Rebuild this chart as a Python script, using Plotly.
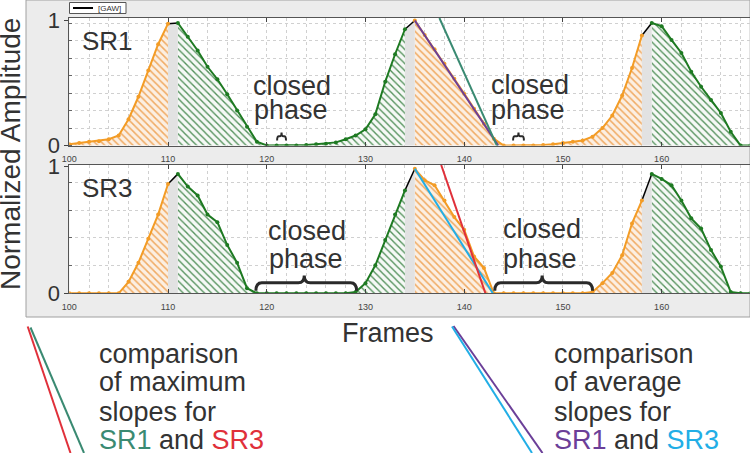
import plotly.graph_objects as go

W, H = 750, 453

# ---------------- data ----------------
frames = list(range(100, 170))

sr1 = [0.01, 0.02, 0.03, 0.035, 0.05, 0.08, 0.21, 0.39, 0.60, 0.81,
       0.975, 0.98, 0.87, 0.76, 0.63, 0.53, 0.41, 0.28, 0.15, 0.03,
       0.0, 0.0, 0.0, 0.0, 0.005, 0.01, 0.015, 0.025, 0.05, 0.08,
       0.13, 0.25, 0.51, 0.73, 0.93, 1.0, 0.885, 0.77, 0.655, 0.535,
       0.415, 0.295, 0.175, 0.055, 0.0, 0.0, 0.0, 0.0, 0.005, 0.01,
       0.02, 0.03, 0.04, 0.07, 0.14, 0.24, 0.40, 0.62, 0.88, 0.98,
       0.955, 0.845, 0.74, 0.59, 0.47, 0.365, 0.26, 0.11, 0.0, 0.0]

sr3 = [0.0, 0.0, 0.0, 0.0, 0.0, 0.0, 0.09, 0.24, 0.43, 0.62,
       0.86, 0.94, 0.84, 0.77, 0.62, 0.56, 0.38, 0.24, 0.04, 0.0,
       0.0, 0.0, 0.0, 0.0, 0.0, 0.0, 0.0, 0.0, 0.0, 0.01,
       0.08, 0.22, 0.42, 0.62, 0.81, 0.98, 0.89, 0.85, 0.73, 0.60,
       0.50, 0.29, 0.20, 0.0, 0.0, 0.0, 0.0, 0.0, 0.0, 0.0,
       0.0, 0.0, 0.0, 0.01, 0.08, 0.16, 0.30, 0.55, 0.73, 0.94,
       0.90, 0.85, 0.73, 0.59, 0.51, 0.34, 0.21, 0.01, 0.0, 0.0]

orange_segments = [(100, 110), (135, 158)]
green_segments = [(111, 134), (159, 169)]
gap_segments = [(110, 111), (134, 135), (158, 159)]

x_ticks = [100, 110, 120, 130, 140, 150, 160]
y_ticks = [0, 1]
y_tick_labels = ["0", "1"]

sr1_avg_slope_x = [135.0, 143.45]
sr1_avg_slope_y = [1.0, 0.0]
sr1_max_slope_x = [137.49, 143.59]
sr1_max_slope_y = [1.02, -0.05]
sr3_avg_slope_x = [135.0, 142.9]
sr3_avg_slope_y = [0.98, 0.0]
sr3_max_slope_x = [137.67, 142.24]
sr3_max_slope_y = [1.01, -0.02]

# ---------------- style ----------------
FONT = "Liberation Sans, Arial, sans-serif"
TXT = "#333333"
ORANGE = "#f39c26"
GREEN = "#1e7a22"
TEAL = "#3a8a72"
RED = "#e0303a"
PURPLE = "#6b3f98"
CYAN = "#22aee6"


def px(x):
    return x / W


def py(y):
    return 1 - y / H


def seg(vals, a, b):
    i0, i1 = frames.index(a), frames.index(b)
    return frames[i0:i1 + 1], vals[i0:i1 + 1]


fig = go.Figure()

panels = [("x", "y", sr1), ("x2", "y2", sr3)]
for xa, ya, vals in panels:
    for a, b in orange_segments:
        xs, ys = seg(vals, a, b)
        fig.add_trace(go.Scatter(x=xs, y=ys, xaxis=xa, yaxis=ya, mode="lines",
                                 line=dict(width=0), fill="tozeroy",
                                 fillpattern=dict(shape="\\", fgcolor="#f0ab64",
                                                  bgcolor="#fcefe2", size=5, solidity=0.3),
                                 showlegend=False, hoverinfo="skip"))
    for a, b in green_segments:
        xs, ys = seg(vals, a, b)
        fig.add_trace(go.Scatter(x=xs, y=ys, xaxis=xa, yaxis=ya, mode="lines",
                                 line=dict(width=0), fill="tozeroy",
                                 fillpattern=dict(shape="\\", fgcolor="#52905a",
                                                  bgcolor="#f6f9f6", size=5, solidity=0.27),
                                 showlegend=False, hoverinfo="skip"))
    for a, b in gap_segments:
        xs, ys = seg(vals, a, b)
        fig.add_trace(go.Scatter(x=xs, y=ys, xaxis=xa, yaxis=ya, mode="lines",
                                 line=dict(width=1.5, color="black"), fill="tozeroy",
                                 fillcolor="#e2e2e2", showlegend=False, hoverinfo="skip"))
    for a, b in orange_segments:
        xs, ys = seg(vals, a, b)
        fig.add_trace(go.Scatter(x=xs, y=ys, xaxis=xa, yaxis=ya, mode="lines+markers",
                                 line=dict(width=2, color=ORANGE),
                                 marker=dict(size=4, color=ORANGE),
                                 showlegend=False))
    for a, b in green_segments:
        xs, ys = seg(vals, a, b)
        fig.add_trace(go.Scatter(x=xs, y=ys, xaxis=xa, yaxis=ya, mode="lines+markers",
                                 line=dict(width=2, color=GREEN),
                                 marker=dict(size=4, color=GREEN),
                                 showlegend=False))

# slope lines
fig.add_trace(go.Scatter(x=sr1_avg_slope_x, y=sr1_avg_slope_y, xaxis="x", yaxis="y",
                         mode="lines", line=dict(color=PURPLE, width=2), showlegend=False))
fig.add_trace(go.Scatter(x=sr1_max_slope_x, y=sr1_max_slope_y, xaxis="x", yaxis="y",
                         mode="lines", line=dict(color=TEAL, width=2), showlegend=False))
fig.add_trace(go.Scatter(x=sr3_avg_slope_x, y=sr3_avg_slope_y, xaxis="x2", yaxis="y2",
                         mode="lines", line=dict(color=CYAN, width=2), showlegend=False))
fig.add_trace(go.Scatter(x=sr3_max_slope_x, y=sr3_max_slope_y, xaxis="x2", yaxis="y2",
                         mode="lines", line=dict(color=RED, width=2), showlegend=False))

# ---------------- axes ----------------
xdom = [px(69.3), px(749.5)]


def xaxis_cfg(anchor):
    return dict(domain=xdom, range=[100, 168.9], anchor=anchor, automargin=False,
                tickmode="array", tickvals=x_ticks, ticks="inside", ticklen=4,
                tickcolor="#444", showline=True, linecolor="#555", linewidth=1,
                mirror="ticks", showgrid=True, gridcolor="#d0d0d0", griddash="dot",
                minor=dict(dtick=2, tick0=100, showgrid=True, gridcolor="#d0d0d0",
                           griddash="dot", ticks=""),
                tickfont=dict(size=9, color="#444", family=FONT),
                ticklabelstandoff=5, zeroline=False)


def yaxis_cfg(anchor, top_px, bot_px, ymax, gstep):
    return dict(domain=[py(bot_px), py(top_px)], range=[0, ymax], anchor=anchor,
                automargin=False,
                tickmode="array", tickvals=y_ticks, ticktext=y_tick_labels,
                ticks="outside", ticklen=4, tickcolor="#444",
                showline=True, linecolor="#555", linewidth=1, mirror=True,
                showgrid=False, zeroline=False,
                minor=dict(dtick=gstep, tick0=0, showgrid=True, gridcolor="#d0d0d0",
                           griddash="dot", ticks="inside", ticklen=3, tickcolor="#666"),
                tickfont=dict(size=22, color=TXT, family=FONT))


fig.update_layout(
    template="none",
    width=W, height=H, margin=dict(l=0, r=0, t=0, b=0, pad=0),
    paper_bgcolor="white", plot_bgcolor="rgba(0,0,0,0)",
    font=dict(family=FONT, color=TXT),
    showlegend=False,
    xaxis=xaxis_cfg("y"),
    yaxis=yaxis_cfg("x", 18, 145.5, 1.02, 0.14),
    xaxis2=xaxis_cfg("y2"),
    yaxis2=yaxis_cfg("x2", 165, 293.3, 1.01, 0.218),
)

# ---------------- shapes ----------------
shapes = []
shapes.append(dict(type="rect", xref="paper", yref="paper", x0=px(26), x1=px(750),
                   y0=py(317), y1=py(0), fillcolor="#ececec",
                   line=dict(color="#a0a0a0", width=1), layer="below"))
for t, b in [(18, 145.5), (165, 293.3)]:
    shapes.append(dict(type="rect", xref="paper", yref="paper", x0=xdom[0], x1=xdom[1],
                       y0=py(b), y1=py(t), fillcolor="white", line=dict(width=0),
                       layer="below"))
shapes.append(dict(type="rect", xref="paper", yref="paper", x0=px(69.5), x1=px(126),
                   y0=py(13.5), y1=py(2.5), fillcolor="white",
                   line=dict(color="#555", width=1)))
shapes.append(dict(type="line", xref="paper", yref="paper", x0=px(73), x1=px(93),
                   y0=py(8), y1=py(8), line=dict(color="black", width=2)))


def brace(xref, yref, x0, x1, xt, ylow, ymid, yhigh, d, w):
    p = (f"M {x0},{ylow} Q {x0},{ymid} {x0 + d},{ymid} L {xt - d},{ymid} "
         f"Q {xt},{ymid} {xt},{yhigh} Q {xt},{ymid} {xt + d},{ymid} "
         f"L {x1 - d},{ymid} Q {x1},{ymid} {x1},{ylow}")
    return dict(type="path", xref=xref, yref=yref, path=p,
                line=dict(color="#2a2a2a", width=w))


shapes.append(brace("x2", "y2", 118.9, 129.1, 123.8, 0.02, 0.083, 0.14, 0.6, 3))
shapes.append(brace("x2", "y2", 143.1, 153.0, 147.9, 0.02, 0.083, 0.14, 0.6, 3))
shapes.append(brace("x", "y", 121.05, 121.95, 121.5, 0.04, 0.075, 0.105, 0.18, 2))
shapes.append(brace("x", "y", 144.95, 146.05, 145.5, 0.04, 0.075, 0.105, 0.18, 2))

shapes.append(dict(type="line", xref="paper", yref="paper", x0=px(27.7), y0=py(326.5),
                   x1=px(70.5), y1=py(453), line=dict(color=RED, width=2)))
shapes.append(dict(type="line", xref="paper", yref="paper", x0=px(30.5), y0=py(327.5),
                   x1=px(84), y1=py(453), line=dict(color=TEAL, width=2)))
shapes.append(dict(type="line", xref="paper", yref="paper", x0=px(453.5), y0=py(326),
                   x1=px(542.5), y1=py(453), line=dict(color=PURPLE, width=2)))
shapes.append(dict(type="line", xref="paper", yref="paper", x0=px(452), y0=py(326.5),
                   x1=px(532), y1=py(453), line=dict(color=CYAN, width=2)))
fig.update_layout(shapes=shapes)

# ---------------- annotations ----------------
ann = []


def text(t, x, y_base, size=27, anchor="left", color=TXT):
    ann.append(dict(text=t, xref="paper", yref="paper", x=px(x), y=py(y_base - 0.35 * size),
                    xanchor=anchor, yanchor="middle", showarrow=False,
                    font=dict(size=size, color=color, family=FONT)))


text("[GAW]", 96, 11.3, size=8)
text("SR1", 80, 50, size=26)
text("SR3", 80, 197, size=26)
text("closed", 251, 95)
text("phase", 252, 119)
text("closed", 489, 94)
text("phase", 489, 119)
text("closed", 266, 240)
text("phase", 267, 268)
text("closed", 501, 238)
text("phase", 501, 268)
text("Frames", 388, 342, anchor="center")

for xl, c1, c2, mid in [(97, TEAL, RED, "maximum"), (552, PURPLE, CYAN, "average")]:
    text("comparison", xl, 363)
    text("of " + mid, xl, 391.5)
    text("slopes for", xl, 421.5)
    text(f"<span style='color:{c1}'>SR1</span> and <span style='color:{c2}'>SR3</span>",
         xl, 449)

ann.append(dict(text="Normalized Amplitude", xref="paper", yref="paper",
                x=px(11), y=py(154), textangle=-90, showarrow=False,
                xanchor="center", yanchor="middle",
                font=dict(size=28, color=TXT, family=FONT)))
fig.update_layout(annotations=ann)

fig.write_html("out.html",
               config={"displayModeBar": False},
               post_script="document.body.style.margin='0px';"
                           "document.body.style.overflow='hidden';")
